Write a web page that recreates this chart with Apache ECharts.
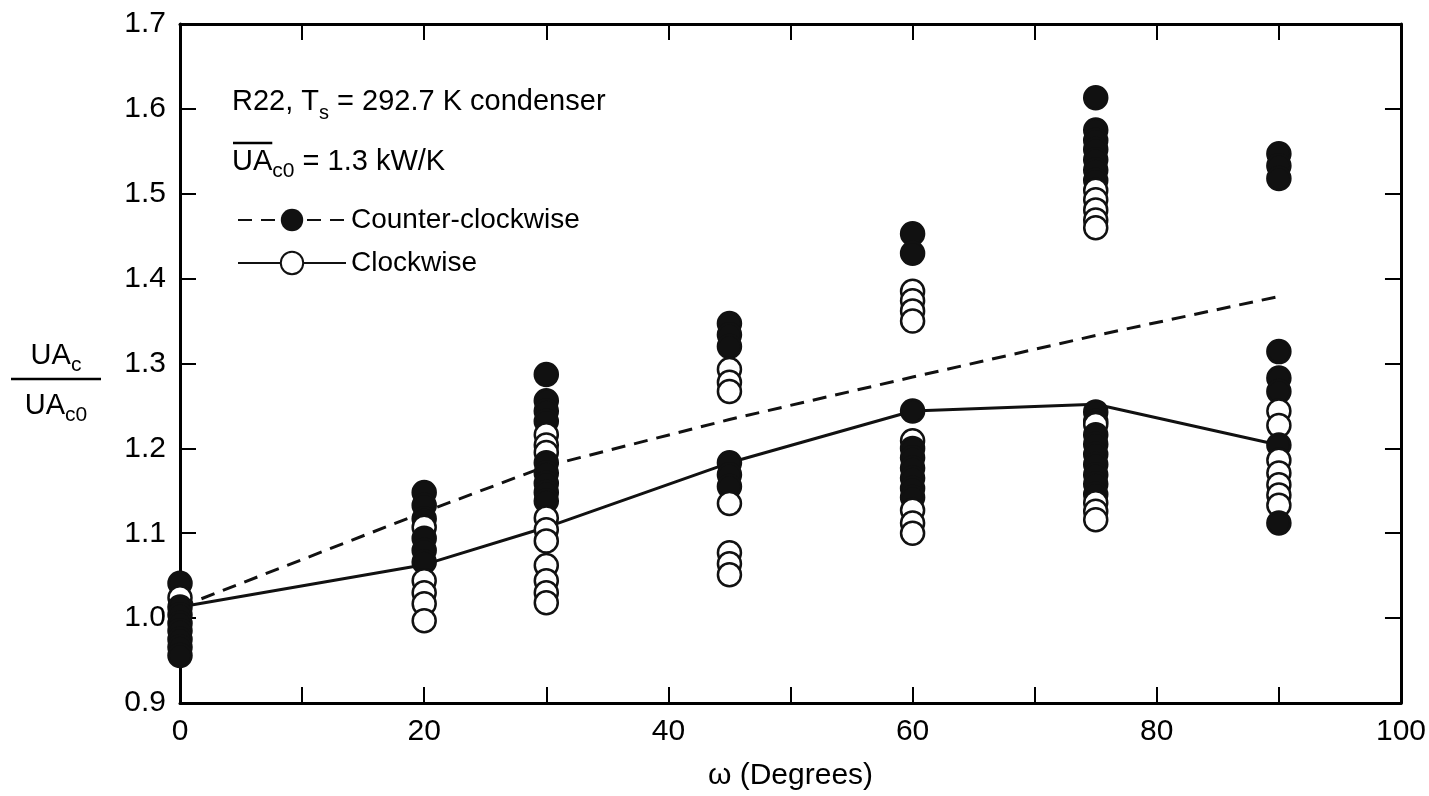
<!DOCTYPE html>
<html><head><meta charset="utf-8">
<script src="https://cdn.jsdelivr.net/npm/echarts@6/dist/echarts.min.js"></script>
<style>html,body{margin:0;padding:0;background:#fff}#c{width:1429px;height:796px}</style>
</head><body><div id="c"></div>
<script>
// ---- data ----
const angles = [0, 20, 30, 45, 60, 75, 90];
const ccwMean = [1.013, 1.125, 1.179, 1.234, 1.284, 1.333, 1.379];
const cwMean  = [1.013, 1.063, 1.107, 1.183, 1.244, 1.252, 1.204];
const ccwPoints = [
  [0,1.041],[0,1.013],[0,1.004],[0,0.994],[0,0.985],[0,0.975],[0,0.966],[0,0.956],
  [20,1.148],[20,1.133],[20,1.117],[20,1.094],[20,1.080],[20,1.066],
  [30,1.287],[30,1.256],[30,1.244],[30,1.232],[30,1.183],[30,1.171],[30,1.159],[30,1.148],[30,1.138],
  [45,1.347],[45,1.334],[45,1.320],[45,1.183],[45,1.169],[45,1.155],
  [60,1.453],[60,1.430],[60,1.244],[60,1.200],[60,1.189],[60,1.177],[60,1.165],[60,1.153],[60,1.142],
  [75,1.613],[75,1.575],[75,1.563],[75,1.552],[75,1.540],[75,1.528],[75,1.516],
  [75,1.243],[75,1.232],[75,1.216],[75,1.205],[75,1.193],[75,1.181],[75,1.169],[75,1.158],[75,1.146],
  [90,1.547],[90,1.533],[90,1.518],[90,1.314],[90,1.283],[90,1.267],[90,1.204],[90,1.112]
];
const cwPoints = [
  [0,1.024],
  [20,1.107],[20,1.044],[20,1.030],[20,1.017],[20,0.997],
  [30,1.216],[30,1.204],[30,1.195],[30,1.118],[30,1.104],[30,1.091],[30,1.062],[30,1.044],[30,1.030],[30,1.018],
  [45,1.293],[45,1.278],[45,1.267],[45,1.135],[45,1.077],[45,1.064],[45,1.051],
  [60,1.385],[60,1.374],[60,1.362],[60,1.350],[60,1.209],[60,1.127],[60,1.112],[60,1.100],
  [75,1.504],[75,1.493],[75,1.481],[75,1.469],[75,1.460],[75,1.228],[75,1.136],[75,1.126],[75,1.116],
  [90,1.244],[90,1.227],[90,1.186],[90,1.171],[90,1.157],[90,1.145],[90,1.133]
];
const xTickLabels = [0, 20, 40, 60, 80, 100];

// ---- build ----
const FONT = '"Liberation Sans", Arial, sans-serif';
const mctx = document.createElement('canvas').getContext('2d');
function tw(t, s) { mctx.font = s + 'px ' + FONT; return mctx.measureText(t).width; }
function widthOf(parts) { return parts.reduce((a, p) => a + tw(p.t, p.s), 0); }
function runs(x, base, parts, out) {
  let cx = x;
  parts.forEach(p => {
    out.push({ type: 'text', x: cx, y: base + (p.dy || 0) - 0.35 * p.s, silent: true,
      style: { text: p.t, fontSize: p.s, fontFamily: FONT, fill: '#000', align: 'left', verticalAlign: 'middle' } });
    cx += tw(p.t, p.s);
  });
  return cx;
}

const combined = ccwPoints.map(p => ({ p, f: true })).concat(cwPoints.map(p => ({ p, f: false })));
combined.sort((a, b) => a.p[0] - b.p[0] || b.p[1] - a.p[1]);
const scatterData = combined.map(o => ({
  value: o.p,
  itemStyle: { color: o.f ? '#111' : '#fff', borderColor: '#111', borderWidth: 2.5, opacity: 1 }
}));

const graphics = [];
runs(232, 112, [{ t: 'R22, T', s: 29 }, { t: 's', s: 20, dy: 8 }, { t: ' = 292.7 K condenser', s: 29 }], graphics);
const uaW = tw('UA', 29);
runs(232, 172, [{ t: 'UA', s: 29 }, { t: 'c0', s: 21, dy: 7 }, { t: ' = 1.3 kW/K', s: 29 }], graphics);
graphics.push({ type: 'line', silent: true, shape: { x1: 233, y1: 143, x2: 232 + uaW, y2: 143 }, style: { stroke: '#000', lineWidth: 2.5 } });
const topParts = [{ t: 'UA', s: 29 }, { t: 'c', s: 21, dy: 7 }];
const botParts = [{ t: 'UA', s: 29 }, { t: 'c0', s: 21, dy: 7 }];
const cxLab = 56;
runs(cxLab - widthOf(topParts) / 2, 366, topParts, graphics);
runs(cxLab - widthOf(botParts) / 2, 416, botParts, graphics);
graphics.push({ type: 'line', silent: true, shape: { x1: 11, y1: 379, x2: 101, y2: 379 }, style: { stroke: '#000', lineWidth: 2.5 } });

const axisCommon = {
  axisLine: { show: true, onZero: false, lineStyle: { color: '#000', width: 3 } },
  axisTick: { show: true, inside: true, length: 16, lineStyle: { color: '#000', width: 2 } },
  splitLine: { show: false }
};

const chart = echarts.init(document.getElementById('c'));
chart.setOption({
  animation: false,
  backgroundColor: '#fff',
  grid: { left: 180, right: 23, top: 24, bottom: 91 },
  legend: {
    orient: 'vertical', left: 232, top: 201, itemWidth: 108, itemHeight: 28, itemGap: 15,
    selectedMode: false,
    textStyle: { fontSize: 28, color: '#000', fontFamily: FONT },
    data: ['Counter-clockwise', 'Clockwise']
  },
  xAxis: [
    Object.assign({}, axisCommon, {
      type: 'value', position: 'bottom', min: 0, max: 100, interval: 10,
      axisLabel: { color: '#000', fontSize: 30, fontFamily: FONT, margin: 14,
        formatter: v => xTickLabels.indexOf(v) >= 0 ? String(v) : '' },
      name: 'ω (Degrees)', nameLocation: 'middle', nameGap: 58,
      nameTextStyle: { color: '#000', fontSize: 30, fontFamily: FONT }
    }),
    Object.assign({}, axisCommon, {
      type: 'value', position: 'top', min: 0, max: 100, interval: 10, axisLabel: { show: false }
    })
  ],
  yAxis: [
    Object.assign({}, axisCommon, {
      type: 'value', position: 'left', min: 0.9, max: 1.7, interval: 0.1,
      axisLabel: { color: '#000', fontSize: 30, fontFamily: FONT, margin: 14, formatter: v => v.toFixed(1) }
    }),
    Object.assign({}, axisCommon, {
      type: 'value', position: 'right', min: 0.9, max: 1.7, interval: 0.1, axisLabel: { show: false }
    })
  ],
  series: [
    { name: 'Counter-clockwise', type: 'line', z: 2, symbol: 'circle', showSymbol: false, silent: true,
      itemStyle: { color: '#111' },
      lineStyle: { color: '#111', width: 3, type: [14, 9] },
      data: angles.map((a, i) => [a, ccwMean[i]]) },
    { name: 'Clockwise', type: 'line', z: 2, symbol: 'emptyCircle', showSymbol: false, silent: true,
      itemStyle: { color: '#111' },
      lineStyle: { color: '#111', width: 3, type: 'solid' },
      data: angles.map((a, i) => [a, cwMean[i]]) },
    { name: 'points', type: 'scatter', z: 3, symbol: 'circle', symbolSize: 23, silent: true,
      itemStyle: { opacity: 1 },
      data: scatterData }
  ],
  graphic: graphics
});
</script></body></html>
